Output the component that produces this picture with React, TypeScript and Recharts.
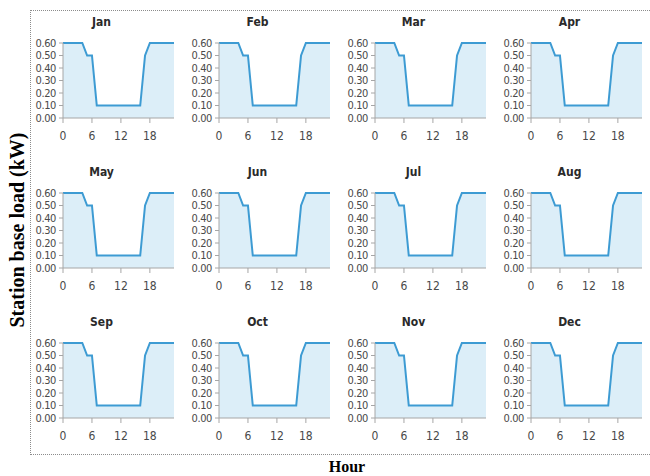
import { Area, AreaChart, XAxis, YAxis } from "recharts"

const MONTHS = ["Jan", "Feb", "Mar", "Apr", "May", "Jun", "Jul", "Aug", "Sep", "Oct", "Nov", "Dec"]
const HOURS = [0, 1, 2, 3, 4, 5, 6, 7, 8, 9, 10, 11, 12, 13, 14, 15, 16, 17, 18, 19, 20, 21, 22, 23]
const BASE_LOAD = [
  0.6, 0.6, 0.6, 0.6, 0.6, 0.5, 0.5, 0.1, 0.1, 0.1, 0.1, 0.1,
  0.1, 0.1, 0.1, 0.1, 0.1, 0.5, 0.6, 0.6, 0.6, 0.6, 0.6, 0.6,
]
const X_TICKS = [0, 6, 12, 18]
const Y_TICKS = [0, 0.1, 0.2, 0.3, 0.4, 0.5, 0.6]

const NARROW = "'Liberation Sans Narrow', 'DejaVu Sans Condensed', sans-serif"
const LINE = "#3d9bd3"
const FILL = "#dceef8"
const AXIS = "#a6a6a6"
const TICK_TEXT = "#4a4a4a"

const rows = HOURS.map((h, i) => ({ hour: h, load: BASE_LOAD[i] }))

function MonthPanel({ month, left, top }: { month: string; left: number; top: number }) {
  return (
    <div style={{ position: "absolute", left, top }}>
      <div
        style={{
          position: "absolute",
          left: 39,
          top: -20,
          width: 60,
          textAlign: "center",
          fontFamily: NARROW,
          fontSize: 12,
          fontWeight: "bold",
          color: "#2a2a2a",
        }}
      >
        {month}
      </div>
      <AreaChart width={150} height={113} data={rows} margin={{ top: 8, right: 9, left: 0, bottom: 0 }}>
        <XAxis
          dataKey="hour"
          type="number"
          domain={[0, 23]}
          ticks={X_TICKS}
          interval={0}
          height={30}
          stroke={AXIS}
          tickSize={5}
          tickMargin={8}
          tick={{ fill: TICK_TEXT, fontSize: 12, fontFamily: NARROW }}
        />
        <YAxis
          type="number"
          domain={[0, 0.6]}
          ticks={Y_TICKS}
          interval={0}
          width={30}
          stroke={AXIS}
          tickSize={4}
          tickMargin={3}
          tickFormatter={(v: number) => v.toFixed(2)}
          tick={{ fill: TICK_TEXT, fontSize: 11, fontFamily: NARROW, letterSpacing: -0.4 }}
        />
        <Area
          type="linear"
          dataKey="load"
          stroke={LINE}
          strokeWidth={2}
          fill={FILL}
          fillOpacity={1}
          isAnimationActive={false}
          dot={false}
          activeDot={false}
        />
      </AreaChart>
    </div>
  )
}

export default function App() {
  return (
    <div
      style={{
        position: "absolute",
        left: 0,
        top: 0,
        width: 650,
        height: 476,
        overflow: "hidden",
        background: "#fff",
      }}
    >
      <div
        style={{
          position: "absolute",
          left: 30,
          top: 10,
          width: 640,
          height: 443,
          border: "1px dotted #8c8c8c",
        }}
      />
      {MONTHS.map((m, i) => {
        const col = i % 4
        const row = Math.floor(i / 4)
        return <MonthPanel key={m} month={m} left={32.5 + 156 * col} top={34.5 + 150 * row} />
      })}
      <svg width={650} height={476} style={{ position: "absolute", left: 0, top: 0, pointerEvents: "none" }}>
        <text
          x={0}
          y={0}
          transform="translate(24 230) rotate(-90)"
          textAnchor="middle"
          fontFamily="'Liberation Serif', 'Times New Roman', serif"
          fontWeight="bold"
          fontSize={20}
          fill="#000"
        >
          Station base load (kW)
        </text>
        <text
          x={347}
          y={472}
          textAnchor="middle"
          fontFamily="'Liberation Serif', 'Times New Roman', serif"
          fontWeight="bold"
          fontSize={16}
          fill="#000"
        >
          Hour
        </text>
      </svg>
    </div>
  )
}
